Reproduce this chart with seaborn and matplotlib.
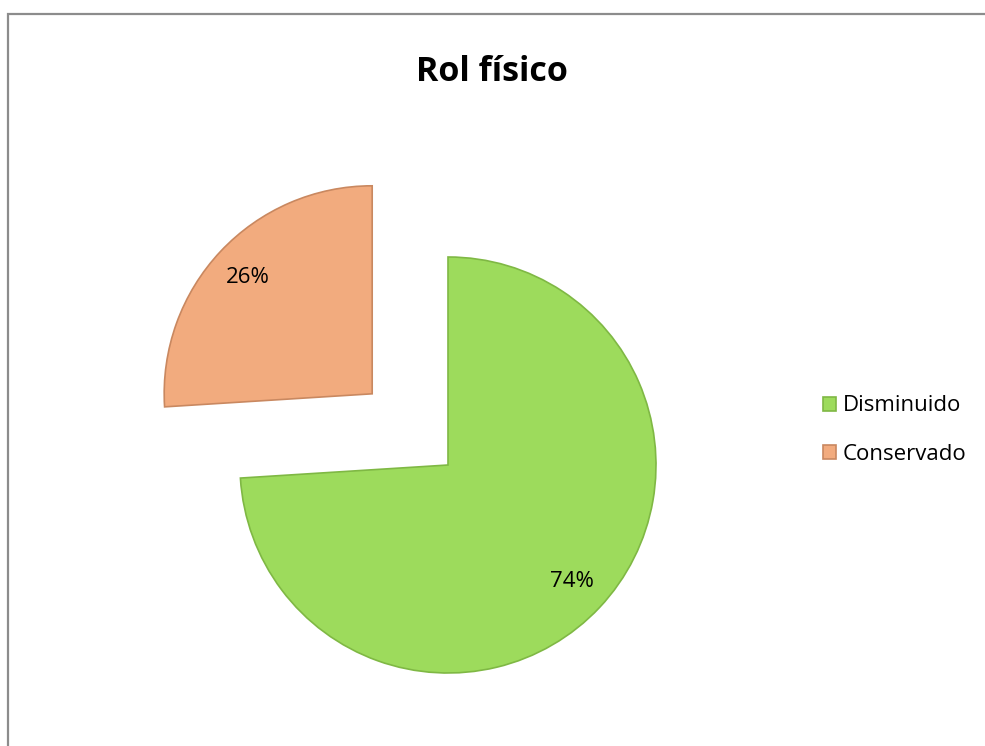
import matplotlib
matplotlib.use("Agg")
import matplotlib.pyplot as plt
from matplotlib.patches import Rectangle
import seaborn as sns

categories = ["Disminuido", "Conservado"]
values = [74, 26]
colors = ["#9DDB5C", "#F2AB7E"]
edge_colors = ["#7FB844", "#C98860"]

sns.set_theme(style="white")
plt.rcParams['font.family'] = ['Open Sans', 'DejaVu Sans']
plt.rcParams['text.color'] = 'black'

W, H = 985, 746
fig = plt.figure(figsize=(W / 100, H / 100), dpi=100)
fig.patch.set_facecolor("white")

# pie geometry in pixels
cx, cy, r = 448, 465, 208
xl, xr = -2.0, 2.0
yb, yt = -1.3, 1.6
left_px = cx + xl * r
bottom_px = H - (cy - yb * r)
ax = fig.add_axes([left_px / W, bottom_px / H, (xr - xl) * r / W, (yt - yb) * r / H])

wedges, texts, autotexts = ax.pie(
    values, colors=colors, startangle=90, counterclock=False,
    explode=[0, 0.5], autopct="%1.0f%%", pctdistance=0.82,
    wedgeprops=dict(linewidth=1.2),
    textprops=dict(fontsize=16, color="black"),
)
for w, ec in zip(wedges, edge_colors):
    w.set_edgecolor(ec)
ax.set_xlim(xl, xr)
ax.set_ylim(yb, yt)
ax.set_aspect("auto")
ax.axis("off")

fig.text(492 / W, 1 - 72 / H, "Rol físico", ha="center", va="center",
         fontsize=24.5, fontweight="bold", color="black")

leg = fig.legend(wedges, categories, loc="center left",
                 bbox_to_anchor=(812 / W, 1 - 430 / H), frameon=False,
                 fontsize=16, handlelength=0.6, handleheight=0.6,
                 handletextpad=0.3, labelspacing=1.22, borderpad=0)
for t in leg.get_texts():
    t.set_color("black")

fig.add_artist(Rectangle((8 / W, -0.1), 1.2, 1 - 14 / H + 0.1,
                         transform=fig.transFigure, fill=False,
                         edgecolor="#8C8C8C", linewidth=1.6))

fig.savefig("out.png", dpi=100)
